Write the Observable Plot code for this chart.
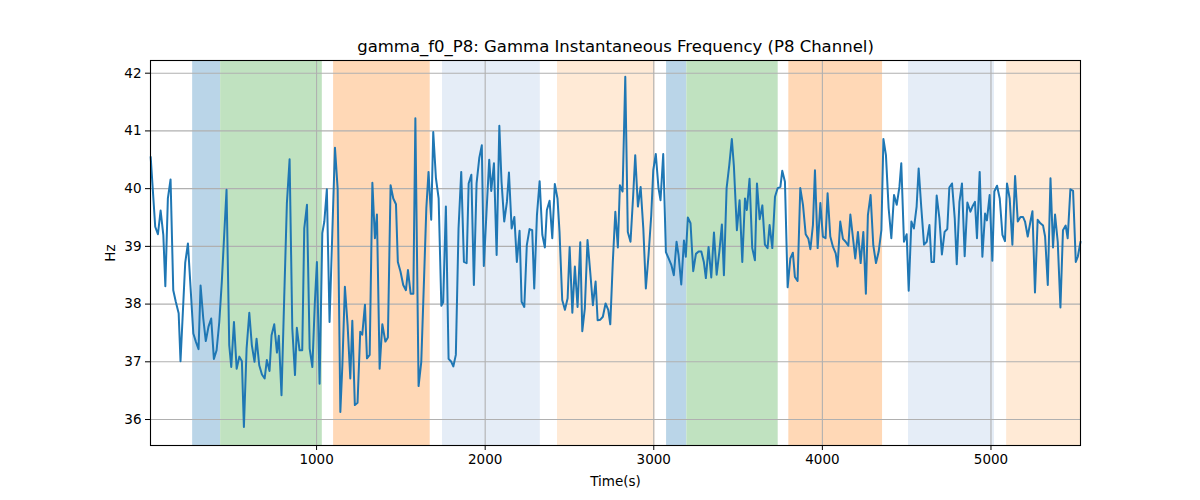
<!DOCTYPE html>
<html>
<head>
<meta charset="utf-8">
<script src="https://cdn.jsdelivr.net/npm/d3@7"></script>
<script src="https://cdn.jsdelivr.net/npm/@observablehq/plot@0.6"></script>
<style>
  body { margin: 0; background: #fff; }
</style>
</head>
<body>
<div id="chart"></div>
<script>
// tiempos (s) y frecuencia instantánea gamma (Hz)
const times = [16, 43, 59, 75, 91, 103, 118, 134, 150, 165, 182, 193, 221, 237, 253, 269, 284, 300, 312, 328,
  343, 359, 375, 391, 407, 423, 438, 450, 466, 482, 494, 510, 526, 542, 557, 569, 585, 601, 616, 632,
  644, 660, 676, 692, 705, 721, 733, 749, 765, 776, 792, 808, 824, 840, 856, 872, 883, 899, 915, 927,
  943, 959, 975, 990, 1002, 1018, 1034, 1046, 1061, 1077, 1093, 1109, 1125, 1141, 1153, 1168, 1184, 1200, 1212, 1227,
  1243, 1259, 1271, 1287, 1299, 1315, 1331, 1346, 1358, 1374, 1390, 1408, 1423, 1439, 1455, 1471, 1482, 1498, 1514, 1530,
  1542, 1558, 1574, 1586, 1605, 1621, 1637, 1651, 1664, 1680, 1692, 1708, 1724, 1740, 1751, 1767, 1783, 1799, 1811, 1826,
  1842, 1858, 1874, 1890, 1902, 1918, 1933, 1949, 1965, 1980, 1992, 2008, 2024, 2036, 2052, 2068, 2084, 2097, 2113, 2129,
  2141, 2157, 2173, 2188, 2204, 2216, 2232, 2247, 2263, 2279, 2291, 2307, 2323, 2339, 2354, 2366, 2382, 2398, 2413, 2429,
  2441, 2457, 2473, 2489, 2501, 2517, 2532, 2548, 2564, 2576, 2591, 2607, 2623, 2639, 2655, 2667, 2683, 2698, 2714, 2730,
  2742, 2757, 2772, 2787, 2799, 2815, 2831, 2846, 2862, 2878, 2890, 2906, 2922, 2938, 2953, 2969, 2985, 2997, 3012, 3028,
  3040, 3056, 3072, 3088, 3104, 3119, 3135, 3147, 3163, 3179, 3190, 3202, 3218, 3234, 3250, 3266, 3282, 3297, 3309, 3325,
  3341, 3357, 3373, 3389, 3404, 3416, 3432, 3448, 3463, 3475, 3493, 3509, 3525, 3541, 3552, 3568, 3584, 3600, 3612, 3628,
  3644, 3659, 3675, 3687, 3703, 3719, 3735, 3751, 3762, 3778, 3794, 3810, 3825, 3837, 3853, 3869, 3885, 3901, 3917, 3929,
  3944, 3956, 3972, 3988, 4003, 4019, 4031, 4047, 4063, 4079, 4090, 4106, 4122, 4138, 4154, 4166, 4184, 4195, 4211, 4227,
  4243, 4258, 4270, 4286, 4302, 4318, 4334, 4350, 4362, 4377, 4393, 4409, 4425, 4441, 4457, 4468, 4484, 4500, 4512, 4528,
  4543, 4559, 4571, 4587, 4603, 4619, 4635, 4647, 4662, 4678, 4694, 4709, 4725, 4741, 4753, 4769, 4785, 4797, 4813, 4828,
  4844, 4860, 4878, 4890, 4905, 4917, 4933, 4949, 4965, 4976, 4992, 5008, 5020, 5036, 5052, 5068, 5083, 5095, 5111, 5127,
  5143, 5159, 5175, 5190, 5202, 5218, 5234, 5246, 5261, 5277, 5293, 5309, 5321, 5337, 5353, 5368, 5380, 5396, 5412, 5427,
  5443, 5455, 5471, 5487, 5503, 5515, 5531];

const hz = [40.55, 39.34, 39.21, 39.62, 39.2, 38.31, 39.83, 40.16, 38.24, 38.04, 37.84, 37.01, 38.72, 39.05, 38.27, 37.49, 37.35, 37.22, 38.32, 37.75,
  37.36, 37.61, 37.75, 37.05, 37.20, 37.69, 38.39, 39.08, 39.98, 37.29, 36.91, 37.69, 36.88, 37.09, 37.01, 35.87, 37.23, 37.85, 37.29, 37.0,
  37.40, 36.94, 36.78, 36.71, 37.03, 36.84, 37.46, 37.65, 37.16, 37.45, 36.42, 38.1, 39.75, 40.51, 37.58, 36.77, 37.59, 37.20, 37.20, 39.31,
  39.72, 37.23, 36.91, 38.04, 38.73, 36.62, 39.23, 39.43, 39.99, 37.69, 39.2, 40.71, 40.0, 36.13, 36.94, 38.30, 37.64, 36.71, 37.71, 36.25,
  36.29, 37.52, 37.47, 37.99, 37.06, 37.12, 40.10, 39.14, 39.55, 36.88, 37.65, 37.35, 37.42, 40.06, 39.83, 39.73, 38.73, 38.56, 38.33, 38.24,
  38.59, 38.18, 38.18, 41.22, 36.58, 37.0, 38.4, 39.66, 40.29, 39.46, 40.98, 40.18, 39.83, 37.97, 38.03, 39.69, 37.05, 37.0, 36.92, 37.12,
  39.31, 40.29, 38.73, 38.71, 40.09, 40.24, 38.33, 40.09, 40.53, 40.75, 38.66, 39.6, 40.50, 39.96, 40.44, 38.85, 41.09, 40.12, 39.43, 39.77,
  40.28, 39.31, 39.51, 38.73, 39.27, 38.04, 37.95, 39.02, 39.30, 39.28, 38.27, 39.54, 40.13, 39.2, 38.98, 39.63, 39.79, 39.14, 40.08, 39.83,
  39.25, 38.07, 37.90, 38.10, 38.99, 37.85, 38.65, 37.95, 39.07, 37.53, 37.92, 39.11, 38.56, 37.98, 38.39, 37.72, 37.73, 37.78, 38.01, 37.90,
  37.65, 38.73, 39.6, 38.98, 40.06, 39.95, 41.94, 39.25, 39.08, 39.89, 40.58, 39.69, 40.03, 39.31, 38.27, 38.85, 39.54, 40.32, 40.60, 40.01,
  39.80, 40.60, 38.90, 38.79, 38.68, 38.50, 39.08, 38.85, 38.34, 39.10, 38.82, 39.50, 39.40, 38.57, 38.87, 38.91, 38.91, 38.73, 38.45, 38.99,
  38.46, 39.24, 38.51, 38.91, 39.38, 38.50, 40.01, 40.41, 40.86, 40.4, 39.28, 39.80, 38.73, 39.83, 39.63, 40.17, 38.97, 38.76, 40.09, 39.47,
  39.71, 39.03, 38.97, 39.37, 38.97, 39.86, 40.01, 40.03, 40.31, 40.12, 38.29, 38.79, 38.89, 38.47, 38.40, 40.01, 39.72, 39.21, 39.13, 38.95,
  39.37, 40.32, 38.97, 39.75, 39.17, 39.14, 39.92, 39.17, 38.99, 38.88, 38.65, 39.43, 39.13, 39.08, 39.01, 39.55, 39.08, 38.79, 39.25, 38.71,
  39.25, 38.18, 39.54, 39.89, 39.02, 38.71, 38.91, 39.28, 40.86, 40.58, 39.66, 39.14, 39.89, 39.72, 40.03, 40.44, 39.08, 39.21, 38.23, 39.43,
  39.31, 39.69, 40.35, 39.66, 39.03, 39.08, 39.37, 38.73, 38.73, 39.88, 39.49, 38.86, 39.25, 39.30, 40.02, 40.09, 39.49, 38.69, 39.77, 40.09,
  38.83, 39.76, 39.60, 39.69, 39.77, 39.14, 40.29, 38.82, 39.57, 39.45, 39.89, 38.75, 39.95, 40.05, 39.83, 39.20, 39.09, 40.09, 39.83, 39.03,
  40.22, 39.43, 39.51, 39.51, 39.43, 39.17, 39.43, 39.61, 38.20, 39.46, 39.40, 39.36, 39.17, 38.33, 40.18, 38.98, 39.55, 39.08, 37.94, 39.28,
  39.36, 39.14, 39.99, 39.96, 38.73, 38.82, 39.08];

// franjas de fondo (inicio, fin, tipo)
const bandStart = [265, 431, 1101, 1747, 2429, 3076, 3196, 3801, 4511, 5093];
const bandEnd   = [431, 1034, 1674, 2327, 3007, 3196, 3738, 4357, 5021, 5531];
const bandKind  = ["a", "b", "c", "d", "e", "a", "b", "c", "d", "e"];

const xTicks = [1000, 2000, 3000, 4000, 5000];
const yTicks = [36, 37, 38, 39, 40, 41, 42];

const colores = { a: "#bad5e8", b: "#c0e2c0", c: "#ffd8b6", d: "#e5edf7", e: "#ffead6" };

const serie = times.map((t, i) => ({ t, v: hz[i] }));
const franjas = bandStart.map((s, i) => ({ s, e: bandEnd[i], k: bandKind[i] }));

const chart = Plot.plot({
  width: 1200,
  height: 500,
  marginLeft: 150,
  marginRight: 120,
  marginTop: 60,
  marginBottom: 55,
  style: { fontFamily: "DejaVu Sans, sans-serif", fontSize: "13.5px", color: "black", background: "white" },
  x: { domain: [15, 5531] },
  y: { domain: [35.55, 42.22] },
  marks: [
    Plot.rect(franjas, { x1: "s", x2: "e", fill: d => colores[d.k] }),
    Plot.gridX(xTicks, { stroke: "#b0b0b0", strokeOpacity: 1, strokeWidth: 1.1 }),
    Plot.gridY(yTicks, { stroke: "#b0b0b0", strokeOpacity: 1, strokeWidth: 1.1 }),
    Plot.line(serie, { x: "t", y: "v", stroke: "#1f77b4", strokeWidth: 2 }),
    Plot.axisX({ ticks: xTicks, tickSize: 5, tickPadding: 4, tickFormat: d3.format("d"), label: null }),
    Plot.axisY({ ticks: yTicks, tickSize: 5, tickPadding: 4, tickFormat: d3.format("d"), label: null }),
    Plot.frame({ stroke: "black", strokeWidth: 1.1 }),
    Plot.text(["gamma_f0_P8: Gamma Instantaneous Frequency (P8 Channel)"],
      { frameAnchor: "top", lineAnchor: "middle", dy: -14, fontSize: 16.5, fill: "black" }),
    Plot.text(["Time(s)"], { frameAnchor: "bottom", lineAnchor: "middle", dy: 36, fill: "black" }),
    Plot.text(["Hz"], { frameAnchor: "left", lineAnchor: "middle", dx: -40, rotate: -90, textAnchor: "middle", fill: "black" })
  ]
});

d3.select("#chart").append(() => chart);
</script>
</body>
</html>
